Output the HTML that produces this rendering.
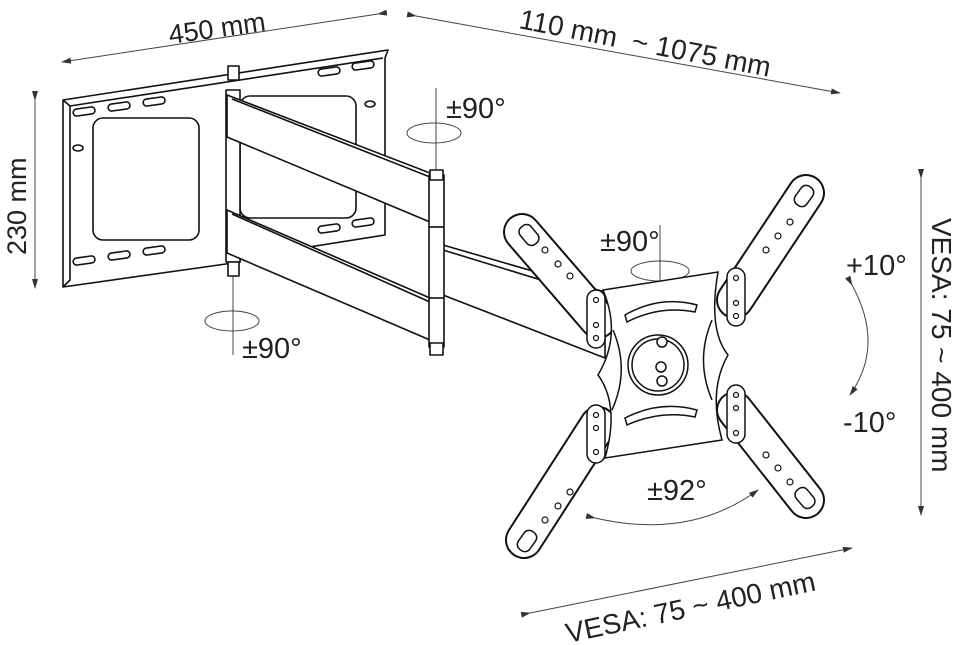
<!DOCTYPE html>
<html><head><meta charset="utf-8"><style>
html,body{margin:0;padding:0;background:#fff;}
svg{display:block;}
text{font-family:"Liberation Sans",Arial,sans-serif;fill:#222;}
</style></head><body>
<svg width="960" height="645" viewBox="0 0 960 645" xmlns="http://www.w3.org/2000/svg">
<defs>
<marker id="ah" markerWidth="10" markerHeight="6" refX="9" refY="3" orient="auto" markerUnits="userSpaceOnUse">
<path d="M0,0 L10,3 L0,6 z" fill="#333"/></marker>
</defs>
<g stroke="#444" stroke-width="1" fill="none">
<line x1="378" y1="14" x2="62" y2="62" marker-end="url(#ah)" marker-start="url(#ah)"/>
<line x1="416" y1="16" x2="840" y2="93" marker-end="url(#ah)" marker-start="url(#ah)"/>
<line x1="35" y1="100" x2="35" y2="288" marker-end="url(#ah)" marker-start="url(#ah)"/>
<line x1="921" y1="178" x2="921" y2="515" marker-end="url(#ah)" marker-start="url(#ah)"/>
<line x1="530" y1="613" x2="852" y2="548" marker-end="url(#ah)" marker-start="url(#ah)"/>
<path d="M852,285 Q885,345 850,395" marker-end="url(#ah)" marker-start="url(#ah)"/>
<path d="M595,518 Q690,540 758,490" marker-end="url(#ah)" marker-start="url(#ah)"/>
<line x1="436" y1="88" x2="436" y2="172"/>
<ellipse cx="434" cy="133" rx="27" ry="10"/>
<line x1="233" y1="270" x2="233" y2="355"/>
<ellipse cx="232" cy="321" rx="27" ry="10"/>
<line x1="660" y1="225" x2="660" y2="300"/>
<ellipse cx="660" cy="271" rx="29" ry="10"/>
</g>
<g font-size="27">
<text transform="translate(170,44) rotate(-8)">450 mm</text>
<text transform="translate(518,28) rotate(11)" font-size="28">110 mm&#160; ~ 1075 mm</text>
<text transform="translate(26,255) rotate(-90)">230 mm</text>
<text transform="translate(932,218) rotate(90)" font-size="28">VESA:&#160;75 ~ 400 mm</text>
<text transform="translate(568,643) rotate(-12)" font-size="28">VESA:&#160;75 ~ 400 mm</text>
</g>
<g font-size="29">
<text x="446" y="118">±90°</text>
<text x="600" y="251">±90°</text>
<text x="242" y="358">±90°</text>
<text x="647" y="500">±92°</text>
<text x="846" y="275">+10°</text>
<text x="843" y="432">-10°</text>
</g>
<g stroke="#111" stroke-width="1.6" fill="#fff" stroke-linejoin="round">
<path d="M63,100 L388,50 L385,58 L385,235 L240,258 L240,262 L63,287 Z"/>
<path d="M63,100 L70,106 L383,58" fill="none"/>
<path d="M70,106 L70,280 L63,287" fill="none"/>
<rect x="93" y="118" width="106" height="122" rx="10"/>
<rect x="240" y="96" width="116" height="122" rx="10"/>
<g fill="none">
<rect x="73" y="108" width="22" height="7" rx="3.5" transform="rotate(-8 84 111)"/>
<rect x="108" y="103" width="22" height="7" rx="3.5" transform="rotate(-8 119 106)"/>
<rect x="143" y="98" width="22" height="7" rx="3.5" transform="rotate(-8 154 101)"/>
<rect x="73" y="257" width="22" height="7" rx="3.5" transform="rotate(-8 84 260)"/>
<rect x="108" y="252" width="22" height="7" rx="3.5" transform="rotate(-8 119 255)"/>
<rect x="143" y="247" width="22" height="7" rx="3.5" transform="rotate(-8 154 250)"/>
<rect x="318" y="68" width="22" height="7" rx="3.5" transform="rotate(-8 329 71)"/>
<rect x="352" y="62" width="22" height="7" rx="3.5" transform="rotate(-8 363 65)"/>
<rect x="318" y="225" width="22" height="7" rx="3.5" transform="rotate(-8 329 228)"/>
<rect x="352" y="219" width="22" height="7" rx="3.5" transform="rotate(-8 363 222)"/>
<ellipse cx="78" cy="148" rx="5" ry="3"/>
<ellipse cx="370" cy="104" rx="5" ry="3"/>
</g>
<rect x="226" y="90" width="14" height="172"/>
<rect x="228" y="66" width="11" height="14"/>
<rect x="228" y="262" width="11" height="14"/>
<path d="M227,95 L430,173 L430,222 L227,137 Z"/>
<path d="M232,99 L430,177" fill="none"/>
<path d="M227,210 L430,298 L430,340 L227,253 Z"/>
<path d="M232,214 L430,302" fill="none"/>
<path d="M443,245 L605,292 L605,358 L443,295 Z"/>
<path d="M443,250 L600,298" fill="none"/>
<rect x="429" y="175" width="15" height="172"/>
<line x1="429" y1="227" x2="444" y2="227"/><line x1="429" y1="298" x2="444" y2="298"/>
<rect x="430" y="170" width="13" height="10"/>
<rect x="430" y="343" width="13" height="12"/>
</g>
<g fill="none" stroke-linecap="round">
<g stroke="#111" stroke-width="38">
<line x1="522" y1="232" x2="598" y2="320"/><line x1="806" y1="193" x2="735" y2="300"/>
<line x1="524" y1="540" x2="598" y2="425"/><line x1="806" y1="500" x2="735" y2="410"/>
</g>
<g stroke="#fff" stroke-width="34">
<line x1="522" y1="232" x2="598" y2="320"/><line x1="806" y1="193" x2="735" y2="300"/>
<line x1="524" y1="540" x2="598" y2="425"/><line x1="806" y1="500" x2="735" y2="410"/>
</g>
</g>
<g stroke="#111" stroke-width="1.5" fill="#fff">
<path d="M603,290 L718,272 Q708,330 728,355 Q708,390 722,440 L605,458 Q620,405 598,375 Q622,335 603,290 Z"/>
<circle cx="658" cy="365" r="30"/><circle cx="658" cy="365" r="26" fill="none"/>
<path d="M625,315 Q660,295 697,305 L695,312 Q660,305 627,322 Z"/>
<path d="M625,418 Q660,400 697,410 L695,417 Q660,410 627,425 Z"/>
<path d="M613,330 Q630,370 612,410" fill="none"/>
<path d="M712,320 Q695,360 712,400" fill="none"/>
<circle cx="662" cy="342" r="5"/><circle cx="661" cy="367" r="5"/><circle cx="662" cy="381" r="5"/>
<rect x="587" y="290" width="18" height="58" rx="9"/>
<rect x="587" y="405" width="18" height="58" rx="9"/>
<rect x="727" y="268" width="18" height="58" rx="9"/>
<rect x="727" y="385" width="18" height="58" rx="9"/>
<rect x="522" y="224" width="14" height="22" rx="6" transform="rotate(-40 529 235)"/>
<rect x="797" y="185" width="14" height="22" rx="6" transform="rotate(35 804 196)"/>
<rect x="520" y="530" width="14" height="22" rx="6" transform="rotate(35 527 541)"/>
<rect x="798" y="487" width="14" height="22" rx="6" transform="rotate(-40 805 498)"/>
</g>
<g fill="none" stroke="#111" stroke-width="1.2">
<circle cx="545" cy="250" r="3"/><circle cx="558" cy="264" r="3"/><circle cx="570" cy="276" r="3"/>
<circle cx="790" cy="222" r="3"/><circle cx="778" cy="236" r="3"/><circle cx="766" cy="250" r="3"/>
<circle cx="545" cy="520" r="3"/><circle cx="558" cy="506" r="3"/><circle cx="570" cy="492" r="3"/>
<circle cx="790" cy="482" r="3"/><circle cx="778" cy="468" r="3"/><circle cx="766" cy="455" r="3"/>
<circle cx="596" cy="300" r="2.5"/><circle cx="596" cy="325" r="2.5"/><circle cx="596" cy="338" r="2.5"/>
<circle cx="596" cy="415" r="2.5"/><circle cx="596" cy="428" r="2.5"/><circle cx="596" cy="452" r="2.5"/>
<circle cx="736" cy="278" r="2.5"/><circle cx="736" cy="303" r="2.5"/><circle cx="736" cy="316" r="2.5"/>
<circle cx="736" cy="395" r="2.5"/><circle cx="736" cy="408" r="2.5"/><circle cx="736" cy="433" r="2.5"/>
</g>
</svg>
</body></html>
